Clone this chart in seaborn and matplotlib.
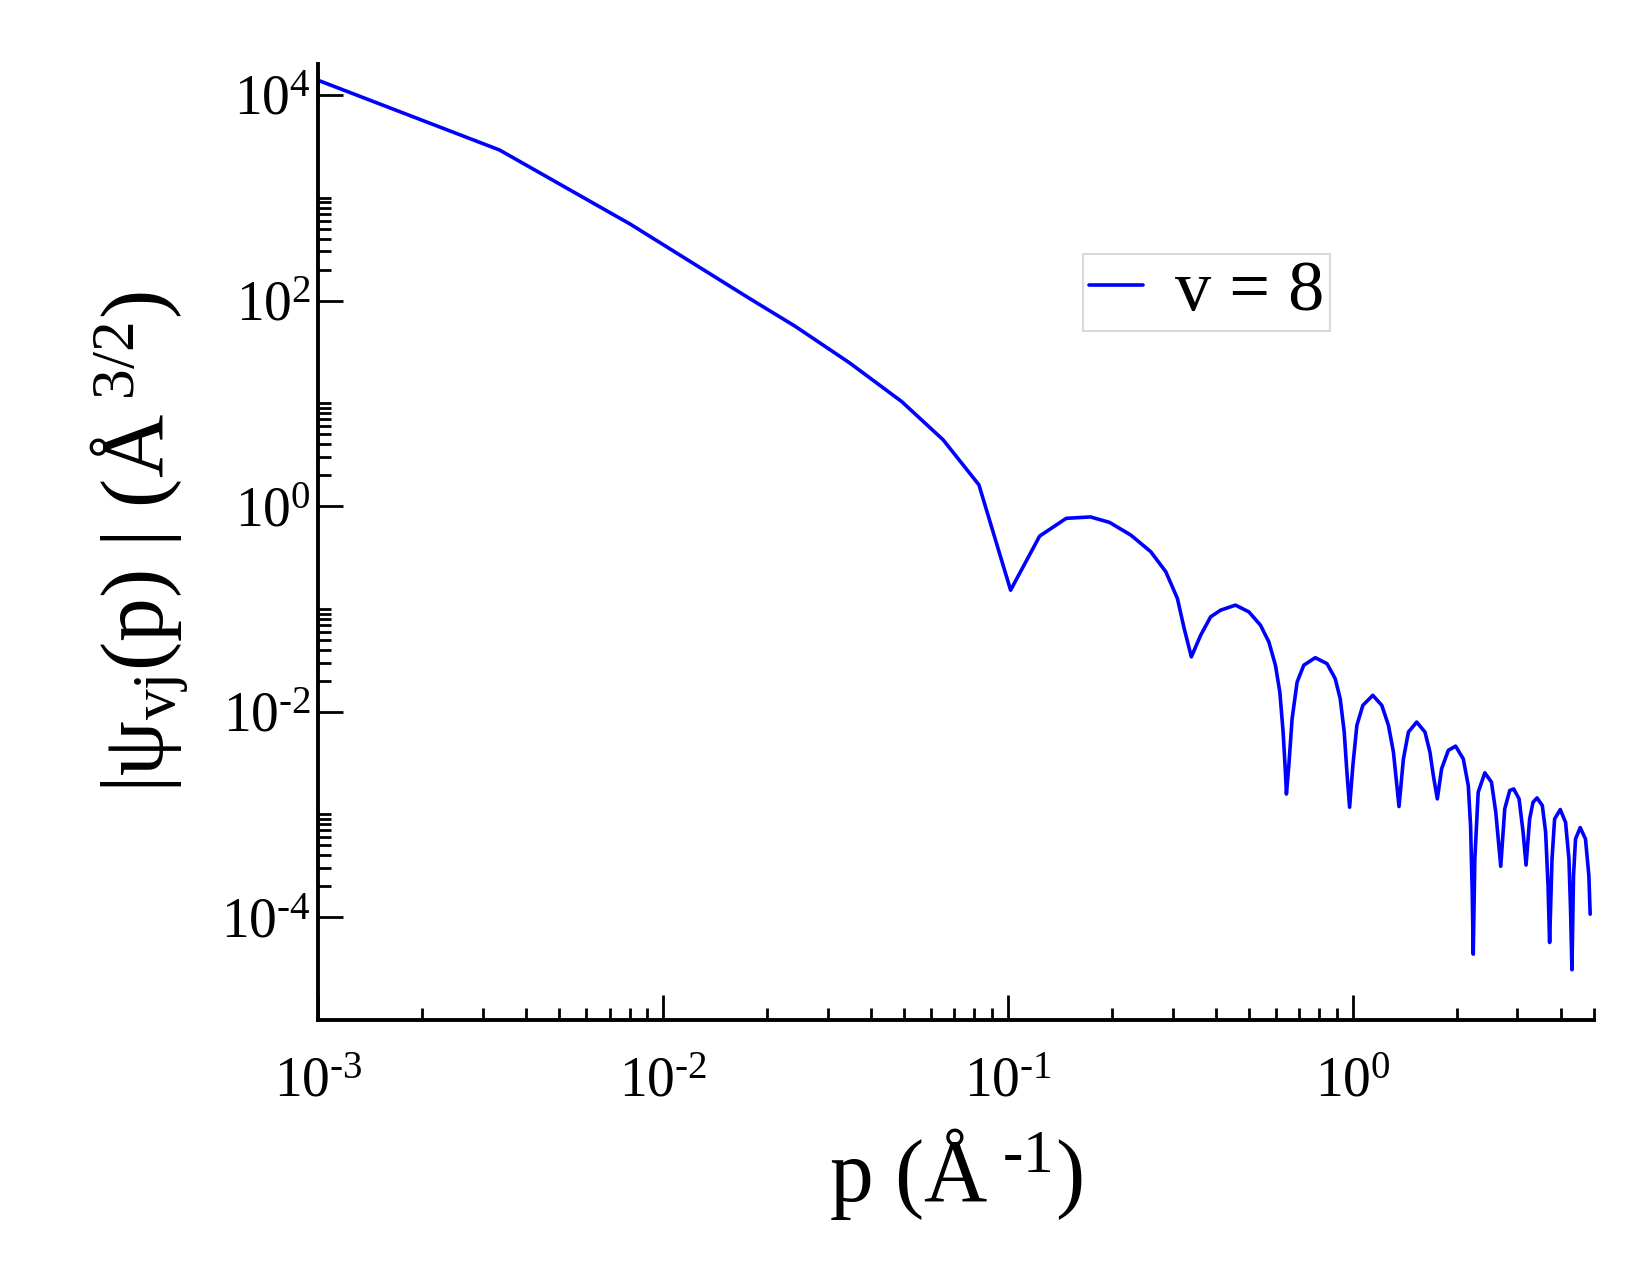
import math
import matplotlib
matplotlib.use('Agg')
import matplotlib.pyplot as plt
import matplotlib.ticker as mticker
import pandas as pd
import seaborn as sns

# ---- data ----
p_values = [0.001, 0.00336, 0.00805, 0.01774, 0.02418, 0.03483, 0.0492, 0.0649, 0.0824,
            0.1018, 0.1236, 0.1476, 0.1735, 0.197, 0.2272, 0.2594, 0.2868, 0.310, 0.3243,
            0.3402, 0.3620, 0.3869, 0.4135, 0.4568, 0.4995, 0.5396, 0.5707, 0.5963, 0.6141,
            0.6277, 0.6374, 0.6417,
            0.6521, 0.6665, 0.6892, 0.7205, 0.7781, 0.8413, 0.8889, 0.9190, 0.9438, 0.9609, 0.9783,
            1.0, 1.0270, 1.0688, 1.1423, 1.2129, 1.2681, 1.3108, 1.3606,
            1.4011, 1.4488, 1.5310, 1.6180, 1.6726, 1.7108, 1.7571,
            1.8080, 1.8905, 1.9850, 2.0893, 2.1603, 2.1935, 2.2182, 2.2330,
            2.2570, 2.3082, 2.4125, 2.5222, 2.5955, 2.6830,
            2.7553, 2.8485, 2.9256, 3.0325, 3.1147, 3.1770,
            3.2540, 3.3288, 3.4188, 3.5412, 3.6204, 3.6788, 3.7180,
            3.7780, 3.8439, 3.9923, 4.1355, 4.2300, 4.2751, 4.3152,
            4.3613, 4.4198, 4.5603, 4.7236, 4.8314, 4.8737]
psi_values = [13900, 2912, 552, 105.7, 56.1, 24.6, 10.4, 4.41, 1.61,
              0.152, 0.511, 0.760, 0.784, 0.694, 0.522, 0.360, 0.230, 0.126, 0.0644,
              0.0341, 0.0554, 0.0836, 0.0971, 0.1087, 0.0935, 0.0694, 0.0477, 0.0283, 0.0155,
              0.00633, 0.00258, 0.00158,
              0.00300, 0.00853, 0.0194, 0.0283, 0.0335, 0.0293, 0.0209, 0.01335, 0.00633, 0.00258, 0.001176,
              0.00300, 0.00735, 0.01152, 0.01442, 0.01152, 0.00735, 0.00404, 0.001194,
              0.00347, 0.00633, 0.00792, 0.00633, 0.00404, 0.00239, 0.001416,
              0.00278, 0.00420, 0.00462, 0.00347, 0.00191, 0.000779, 0.0001745, 4.37e-5,
              0.000368, 0.001646, 0.00254, 0.00206, 0.00105, 0.000313,
              0.00113, 0.00171, 0.00177, 0.001416, 0.000671, 0.000322,
              0.000904, 0.001315, 0.001448, 0.001221, 0.000671, 0.000203, 5.68e-5,
              0.000368, 0.000904, 0.001116, 0.000839, 0.000368, 0.00012, 3.08e-5,
              0.000254, 0.000577, 0.000745, 0.000577, 0.000254, 0.000107]
series_label = 'v = 8'
x_major_ticks = [1e-3, 1e-2, 1e-1, 1e0]
y_major_ticks = [1e-4, 1e-2, 1e0, 1e2, 1e4]
x_label = r'p (Å$^{\mathregular{\ \text{-}1}}$)'
y_label = r'|ψ$_{\mathregular{vj}}$(p) | (Å$^{\mathregular{\ 3/2}}$)'

# ---- style ----
sns.set_theme(style='white')
plt.rcParams['font.family'] = ['Liberation Serif', 'DejaVu Serif']
plt.rcParams['mathtext.fontset'] = 'custom'
plt.rcParams['mathtext.rm'] = 'Liberation Serif'
plt.rcParams['mathtext.it'] = 'Liberation Serif:italic'
plt.rcParams['mathtext.bf'] = 'Liberation Serif:bold'
plt.rcParams['text.color'] = 'black'
plt.rcParams['axes.labelcolor'] = 'black'

W, H = 1650, 1275
fig = plt.figure(figsize=(W / 100, H / 100), dpi=100)
ax = fig.add_axes([318 / W, 1 - 1020 / H, 1276 / W, 956 / H])

df = pd.DataFrame({'p': p_values, 'psi': psi_values, 'series': series_label})
sns.lineplot(data=df, x='p', y='psi', hue='series', palette=['#0000ff'], ax=ax,
             estimator=None, sort=False, linewidth=2.6)

ax.set_xscale('log')
ax.set_yscale('log')
ax.set_xlim(1e-3, 5)
ax.set_ylim(1e-5, 2e4)

ax.xaxis.set_major_locator(mticker.FixedLocator(x_major_ticks))
ax.xaxis.set_minor_locator(mticker.LogLocator(base=10, subs=range(2, 10), numticks=20))
ax.yaxis.set_major_locator(mticker.FixedLocator(y_major_ticks))
y_minor = [k * t for t in y_major_ticks[:-1] for k in range(2, 11)]
ax.yaxis.set_minor_locator(mticker.FixedLocator(y_minor))


def fmt(v, pos=None):
    e = int(round(math.log10(v)))
    s = r'\text{-}%d' % abs(e) if e < 0 else '%d' % e
    return r'$\mathregular{10^{%s}}$' % s


ax.xaxis.set_major_formatter(mticker.FuncFormatter(fmt))
ax.yaxis.set_major_formatter(mticker.FuncFormatter(fmt))
ax.xaxis.set_minor_formatter(mticker.NullFormatter())
ax.yaxis.set_minor_formatter(mticker.NullFormatter())

for side in ['top', 'right']:
    ax.spines[side].set_visible(False)
for side in ['left', 'bottom']:
    ax.spines[side].set_linewidth(2.8)
    ax.spines[side].set_color('black')

ax.tick_params(which='both', direction='in', left=True, bottom=True, top=False, right=False,
               colors='black', width=2)
ax.tick_params(which='major', length=18, labelsize=40)
ax.tick_params(which='minor', length=9)
ax.tick_params(axis='y', which='major', pad=5)
ax.tick_params(axis='x', which='major', pad=26)

ax.set_xlabel(x_label, fontsize=63)
ax.set_ylabel(y_label, fontsize=63)
ax.xaxis.set_label_coords(0.5, -0.111)
ax.yaxis.set_label_coords(-0.100, 0.5)
ax.xaxis.label.set_va('top')

leg = ax.legend(loc='upper left', bbox_to_anchor=(1083 / W, 1 - 254 / H),
                bbox_transform=fig.transFigure, fontsize=52, frameon=True,
                fancybox=False, edgecolor='#d9d9d9', framealpha=1,
                handlelength=0.75, handletextpad=0.45, borderpad=0.08,
                borderaxespad=0)
leg.get_frame().set_linewidth(1.5)
for line in leg.get_lines():
    line.set_linewidth(2.6)

fig.savefig('out.png', dpi=100, facecolor='white')
